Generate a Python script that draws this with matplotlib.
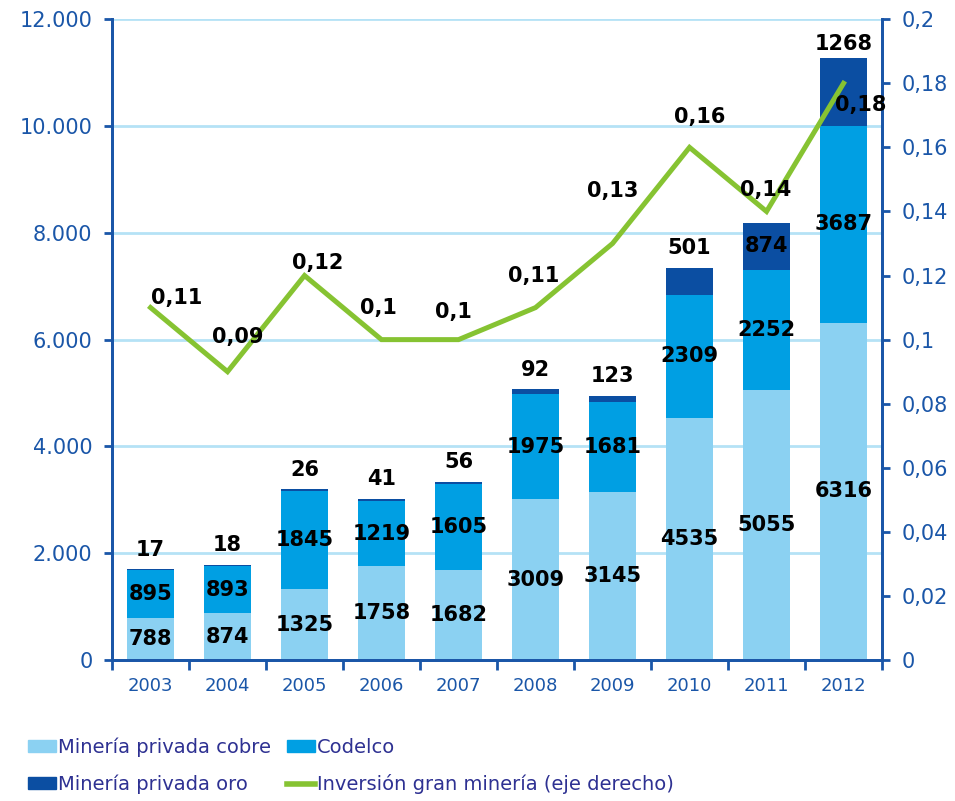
import numpy as np
import matplotlib
matplotlib.use('Agg')
import matplotlib.pyplot as plt
from matplotlib.ticker import FuncFormatter, FixedLocator
from matplotlib.patches import Patch
from matplotlib.lines import Line2D

years = ['2003', '2004', '2005', '2006', '2007', '2008', '2009', '2010', '2011', '2012']
privada_cobre = [788, 874, 1325, 1758, 1682, 3009, 3145, 4535, 5055, 6316]
codelco = [895, 893, 1845, 1219, 1605, 1975, 1681, 2309, 2252, 3687]
privada_oro = [17, 18, 26, 41, 56, 92, 123, 501, 874, 1268]
inversion = [0.11, 0.09, 0.12, 0.1, 0.1, 0.11, 0.13, 0.16, 0.14, 0.18]
inversion_txt = ['0,11', '0,09', '0,12', '0,1', '0,1', '0,11', '0,13', '0,16', '0,14', '0,18']

c_light = '#8BD1F2'
c_mid = '#009FE3'
c_dark = '#0B4EA2'
c_green = '#86C332'
c_axis = '#1A56A8'
c_grid = '#B5E2F6'
c_legend = '#2E3192'

fig = plt.figure(figsize=(9.55, 8.01), dpi=100)
ax = fig.add_axes([0.1173, 0.176, 0.8063, 0.8])
ax2 = ax.twinx()

x = np.arange(len(years))
w = 0.61
bottom2 = np.array(privada_cobre) + np.array(codelco)
tops = bottom2 + np.array(privada_oro)

ax.bar(x, privada_cobre, w, color=c_light, zorder=2)
ax.bar(x, codelco, w, bottom=privada_cobre, color=c_mid, zorder=2)
ax.bar(x, privada_oro, w, bottom=bottom2, color=c_dark, zorder=2)

lab_kw = dict(fontsize=15, fontweight='bold', color='black', ha='center', va='center', zorder=5)
for i in range(len(years)):
    ax.text(x[i], privada_cobre[i] / 2, str(privada_cobre[i]), **lab_kw)
    ax.text(x[i], privada_cobre[i] + codelco[i] / 2, str(codelco[i]), **lab_kw)
    if years[i] == '2011':
        ax.text(x[i], bottom2[i] + privada_oro[i] / 2, str(privada_oro[i]), **lab_kw)
    else:
        dy = 10 if years[i] == '2012' else 14
        ax.annotate(str(privada_oro[i]), (x[i], tops[i]), xytext=(0, dy),
                    textcoords='offset points', **lab_kw)

ax2.plot(x, inversion, color=c_green, lw=3.6, solid_joinstyle='miter', zorder=4)
offs = [(26, 10), (10, 35), (13, 13), (-3, 32), (-5, 28), (-2, 32), (0, 53), (10, 30), (-1, 21), (17, -22)]
for i in range(len(years)):
    ax2.annotate(inversion_txt[i], (x[i], inversion[i]),
                 xytext=(offs[i][0] * 0.72, offs[i][1] * 0.72), textcoords='offset points',
                 **lab_kw)

ax.set_xlim(-0.5, len(years) - 0.5)
ax.set_ylim(0, 12000)
ax2.set_ylim(0, 0.2)
ax.set_yticks(np.arange(0, 12001, 2000))
ax2.set_yticks(np.arange(0, 0.2001, 0.02))
ax.yaxis.set_major_formatter(FuncFormatter(lambda v, p: f'{int(v):,}'.replace(',', '.')))
ax2.yaxis.set_major_formatter(FuncFormatter(lambda v, p: f'{round(v, 2):g}'.replace('.', ',')))

ax.set_xticks(x)
ax.set_xticklabels(years)
ax.xaxis.set_minor_locator(FixedLocator(np.arange(-0.5, len(years), 1)))
ax.tick_params(axis='x', which='major', length=0, pad=12, labelsize=13, labelcolor=c_axis)
ax.tick_params(axis='x', which='minor', length=7, width=2, color=c_axis, direction='out')
ax.tick_params(axis='y', length=6, width=2, color=c_axis, labelsize=15, labelcolor=c_axis, pad=8)
ax2.tick_params(axis='y', length=6, width=2, color=c_axis, labelsize=15, labelcolor=c_axis, pad=8)

ax.yaxis.grid(True, color=c_grid, lw=2, zorder=0)
ax.set_axisbelow(True)
for a in (ax, ax2):
    a.spines['top'].set_visible(False)
    for s in ('left', 'right', 'bottom'):
        a.spines[s].set_color(c_axis)
        a.spines[s].set_linewidth(2)

handles = [Patch(color=c_light), Patch(color=c_dark), Patch(color=c_mid),
           Line2D([0], [0], color=c_green, lw=4)]
labels = ['Minería privada cobre', 'Minería privada oro', 'Codelco',
          'Inversión gran minería (eje derecho)']
leg = fig.legend(handles, labels, ncol=2, loc='lower left', bbox_to_anchor=(0.0188, -0.004),
                 frameon=False, borderpad=0, handlelength=1.44, handleheight=0.62,
                 handletextpad=0.12, columnspacing=0.8, labelspacing=0.9,
                 prop={'size': 14})
for t in leg.get_texts():
    t.set_color(c_legend)

fig.savefig('out.png', dpi=100)
